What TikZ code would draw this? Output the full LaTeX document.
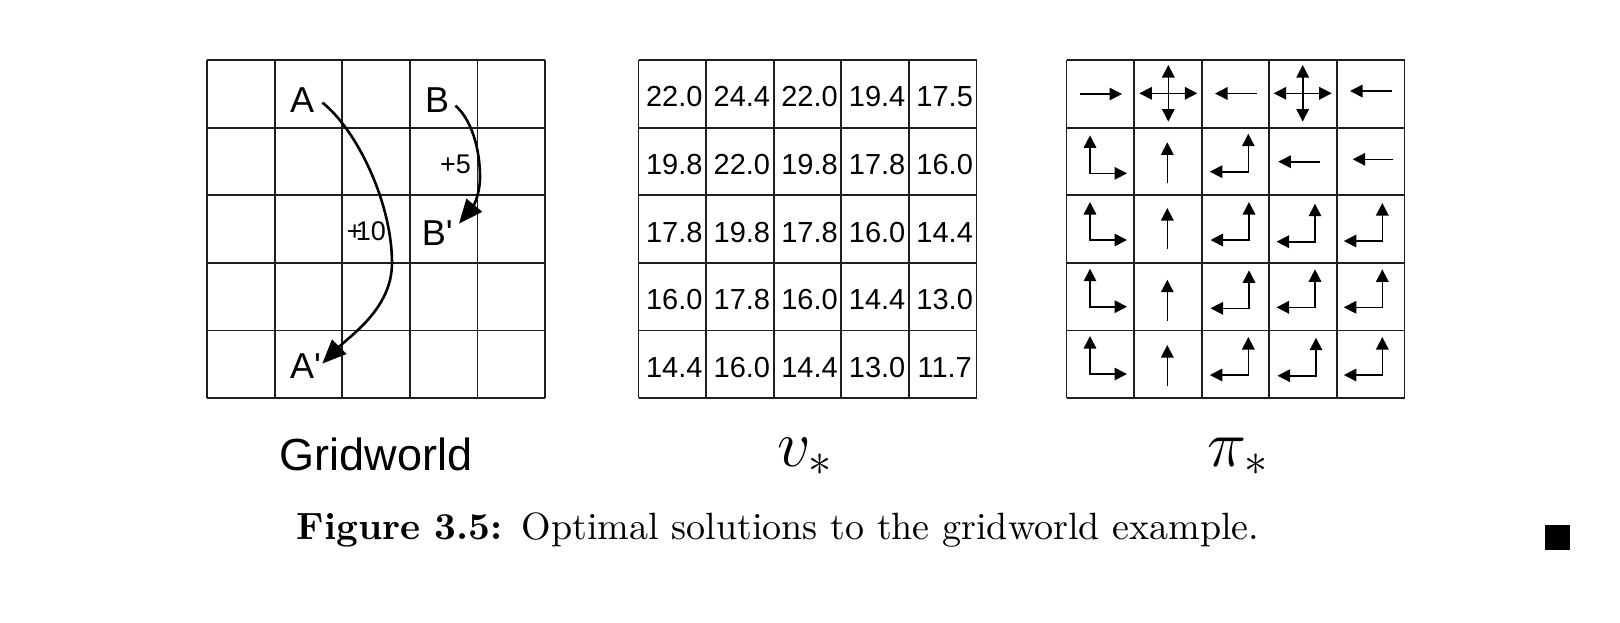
\RequirePackage{fix-cm}
\documentclass[tikz,border=0pt]{standalone}
\usepackage{fontspec}
\newfontfamily\hv{Liberation Sans}[Ligatures=TeXOff]
\newfontfamily\capfont{lmroman10-regular}[Extension=.otf, BoldFont=lmroman10-bold]
\usetikzlibrary{arrows.meta,calc}
\tikzset{
  gridline/.style={line width=1.8pt, color=black!88},
  valtext/.style={anchor=base, inner sep=0pt, font=\hv\fontsize{29}{29}\selectfont},
  gwlab/.style={anchor=base west, inner sep=0pt, font=\hv\fontsize{36}{36}\selectfont},
  rewlab/.style={anchor=base west, inner sep=0pt, font=\hv\fontsize{27}{27}\selectfont},
  bigarrow/.style={line width=2.6pt, -{Triangle[length=24pt,width=20pt]}},
  pol/.style={line width=1.6pt, -{Triangle[length=12.5pt,width=12.5pt]}},
  pol2/.style={line width=1.6pt, {Triangle[length=12.5pt,width=12.5pt]}-{Triangle[length=12.5pt,width=12.5pt]}},
}
\newcommand\polR[2]{\draw[pol2] (#1,#2-38) -- (#1,#2) -- (#1+37,#2);}
\newcommand\polL[2]{\draw[pol2] (#1,#2-38) -- (#1,#2) -- (#1-38.5,#2);}
\newcommand\polU[2]{\draw[pol] (#1,#2) -- (#1,#2-41);}
\newcommand\polH[3]{\draw[pol] (#1,#2) -- (#3,#2);}
\newcommand\polF[2]{\draw[pol2] (#1-29,#2) -- (#1+29,#2); \draw[pol2] (#1,#2-28.3) -- (#1,#2+28.3);}
\begin{document}
\begin{tikzpicture}[x=1pt,y=-1pt]
\useasboundingbox (0,0) rectangle (1620,622);
% grids
\foreach \gx in {207,638.5,1066.5}{
  \foreach \i in {0,...,5}{
    \draw[gridline] (\gx+\i*67.6,60) -- (\gx+\i*67.6,398);
    \draw[gridline] (\gx,60+\i*67.6) -- (\gx+338,60+\i*67.6);
  }
}
% gridworld labels
\node[gwlab] (A) at (290,112) {A};
\node[gwlab] (B) at (425,112) {B};
\node[gwlab] (Ap) at (290,378) {A'};
\node[gwlab] (Bp) at (421.7,245) {B'};
\node[rewlab] (r5) at (440,173) {+5};
\node[rewlab] (r10) at (346.7,240) {+\kern-0.25em10};
\draw[bigarrow] ([shift={(8,3)}]A.east) .. controls (357,130) and (392,203) .. (392,263)
  .. controls (392,308) and (351,335) .. ([shift={(1,-2)}]Ap.east);
\draw[bigarrow] ([shift={(6,6)}]B.east) .. controls (472,120) and (480,150) .. (480,177)
  .. controls (480,196) and (472,208) .. ([shift={(6,-9)}]Bp.east);
% values
\foreach \vals [count=\r from 0] in {{22.0,24.4,22.0,19.4,17.5},{19.8,22.0,19.8,17.8,16.0},{17.8,19.8,17.8,16.0,14.4},{16.0,17.8,16.0,14.4,13.0},{14.4,16.0,14.4,13.0,11.7}}{
  \foreach \v [count=\c from 0] in \vals {
    \node[valtext] (v\r\c) at (638.5+67.6*\c+35.8,60+67.6*\r+33.8+13) {\v};
  }
}
% policy
\polH{1080}{94}{1122}
\polF{1168.3}{93.3}
\polH{1256.7}{93.5}{1215}
\polF{1302.7}{93.3}
\polH{1391.7}{91}{1350}
\polR{1090}{173.3}
\polU{1167.3}{183.3}
\polL{1248.3}{171.7}
\polH{1320}{161.7}{1278.3}
\polH{1393.3}{159.3}{1352.7}
\polR{1090}{240}
\polU{1167.3}{249}
\polL{1249}{240}
\polL{1315}{241.7}
\polL{1382.3}{241}
\polR{1090}{306.7}
\polU{1167.3}{320.7}
\polL{1249}{308.3}
\polL{1315}{307.3}
\polL{1382.3}{307.3}
\polR{1090}{374}
\polU{1167.3}{386}
\polL{1248.3}{375}
\polL{1316}{375.7}
\polL{1382.3}{375}
% bottom labels
\node[anchor=base, inner sep=0pt, font=\hv\fontsize{45}{45}\selectfont] (gw) at (376,470) {Gridworld};
\node[anchor=base, inner sep=0pt] (vs) at (804.5,466) {\fontsize{66}{66}\selectfont$v_*$};
\node[anchor=base, inner sep=0pt] (ps) at (1237.5,466) {\fontsize{66}{66}\selectfont$\pi_*$};
\node[anchor=base, inner sep=0pt, font=\capfont\fontsize{38}{38}\selectfont] (cap) at (778,539) {\textbf{Figure 3.5:}\hspace{0.5em}Optimal solutions to the gridworld example.};
\fill (1545,525) rectangle (1570,550);
\end{tikzpicture}
\end{document}
